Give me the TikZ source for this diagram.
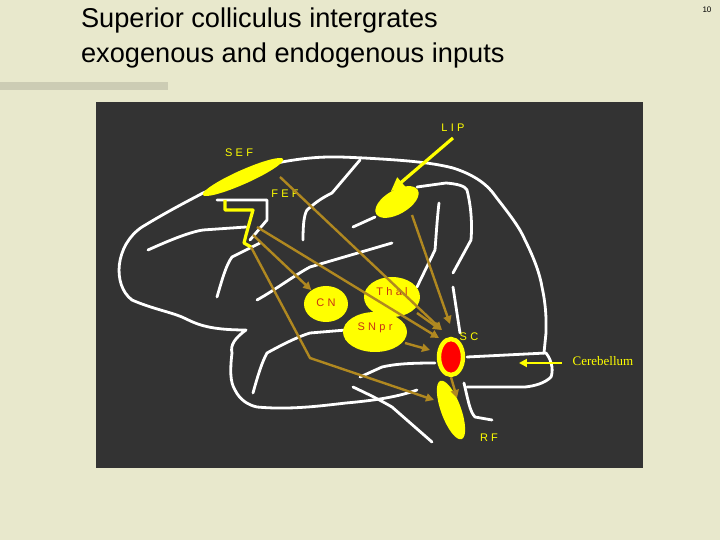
\documentclass[tikz,border=0pt]{standalone}
\usepackage{fontspec}
\setmainfont{Liberation Sans}
\newfontfamily\serifont{Liberation Serif}
\usetikzlibrary{arrows.meta, shapes.geometric}
\definecolor{slidebg}{RGB}{232, 232, 204}
\definecolor{panel}{RGB}{51, 51, 51}
\definecolor{area}{RGB}{255, 255, 0}
\definecolor{projcol}{RGB}{176, 136, 32}
\definecolor{lbl}{RGB}{200, 50, 20}

\begin{document}
\begin{tikzpicture}[
    x=0.5pt, y=-0.5pt,
    sulcus/.style={draw=white, line width=1.4pt, line cap=round, line join=round},
    region/.style={ellipse, fill=area, inner sep=0pt},
    proj/.style={draw=projcol, line width=1.2pt, -{Triangle[length=4pt, width=4pt]}},
    tag/.style={text=area, font=\fontsize{5.5}{6}\selectfont\addfontfeature{LetterSpace=30}},
    intag/.style={text=lbl, font=\fontsize{5.5}{6}\selectfont\addfontfeature{LetterSpace=30}}
]
\useasboundingbox[fill=slidebg] (0,0) rectangle (720,540);

% title and slide number
\node[anchor=north west, align=left, font=\fontsize{13.6}{17.5}\selectfont] (title) at (74,1)
    {Superior colliculus intergrates\\exogenous and endogenous inputs};
\node[font=\fontsize{4}{5}\selectfont] (pageno) at (707,10) {10};
\fill[black!12!slidebg] (0,82) rectangle (168,90);

% dark panel
\fill[panel] (96,102) rectangle (643,468);

% brain outline
\draw[sulcus] (132,300) .. controls (112,285) and (115,245) .. (142,227)
    .. controls (170,210) and (190,200) .. (203,193)
    .. controls (240,178) and (260,166) .. (282,162)
    .. controls (320,155) and (340,157) .. (364,158)
    .. controls (400,160) and (430,162) .. (453,168)
    .. controls (475,175) and (488,185) .. (496,197)
    .. controls (510,215) and (520,228) .. (525,240)
    .. controls (535,260) and (540,275) .. (542,287)
    .. controls (547,310) and (546,325) .. (546,333) -- (544,353);
\draw[sulcus] (132,300) .. controls (150,308) and (170,312) .. (182,317)
    .. controls (195,323) and (205,330) .. (246,330)
    .. controls (235,338) and (230,345) .. (232,353)
    .. controls (230,370) and (230,382) .. (235,390)
    .. controls (240,400) and (248,405) .. (257,407)
    .. controls (290,410) and (320,406) .. (346,403)
    .. controls (380,400) and (400,396) .. (417,390);
\draw[sulcus] (467,357) -- (546,353) .. controls (553,362) and (553,372) .. (551,377)
    .. controls (545,383) and (535,386) .. (525,387) -- (467,387);
\draw[sulcus] (464,383) .. controls (468,400) and (470,412) .. (475,417) -- (492,420);
\draw[sulcus] (353,387) .. controls (370,395) and (380,400) .. (392,407) -- (432,442);
\draw[sulcus] (148,250) .. controls (170,240) and (190,232) .. (203,230) -- (246,227);
\draw[sulcus] (217,200) -- (267,200) -- (267,220) -- (250,240);
\draw[sulcus] (217,297) .. controls (222,280) and (226,265) .. (232,257) -- (260,243);
\draw[sulcus] (303,240) .. controls (303,225) and (304,215) .. (307,210)
    .. controls (318,200) and (326,196) .. (332,193) -- (360,160);
\draw[sulcus] (353,227) -- (375,217);
\draw[sulcus] (417,187) -- (446,183) .. controls (458,184) and (465,186) .. (467,190)
    .. controls (472,210) and (472,228) .. (471,240) -- (453,273);
\draw[sulcus] (439,203) .. controls (437,220) and (436,238) .. (435,250) -- (417,287);
\draw[sulcus] (253,393) .. controls (258,375) and (262,362) .. (267,353)
    .. controls (285,343) and (300,336) .. (310,333) -- (346,330);
\draw[sulcus] (257,300) .. controls (275,290) and (295,275) .. (310,267) -- (392,243);
\draw[sulcus] (435,363) .. controls (410,363) and (395,364) .. (382,367) -- (360,377);
\draw[sulcus] (453,287) -- (460,333);

% cortical areas
\node[region, minimum width=44, minimum height=7, rotate=24] (sef) at (243,177) {};
\node[region, minimum width=24, minimum height=12, rotate=30] (lip) at (397,202) {};
\draw[area, line width=1.6pt, line join=round] (225,200) -- (225,210) -- (253,210)
    -- (246,235) -- (244,243) -- (251,247);
\coordinate (fef) at (251,240);

% subcortical nuclei
\node[region, minimum width=22, minimum height=18] (cn) at (326,304) {};
\node[region, minimum width=28, minimum height=20] (thal) at (392,297) {};
\node[region, minimum width=32, minimum height=20] (snpr) at (375,332) {};
\node[ellipse, fill=red, draw=area, line width=2.2pt, minimum width=12,
      minimum height=18, inner sep=0pt] (sc) at (451,357) {};
\node[region, minimum width=31, minimum height=10, rotate=-70] (rf) at (451,410) {};

% labels
\node[tag] (seflbl) at (239,153) {SEF};
\node[tag] (feflbl) at (285,194) {FEF};
\node[tag] (liplbl) at (453,128) {LIP};
\node[intag] (cnlbl) at (326,303) {CN};
\node[intag] (thallbl) at (392,292) {Thal};
\node[intag] (snprlbl) at (375,328) {SNpr};
\node[tag] (sclbl) at (469,337) {SC};
\node[tag] (rflbl) at (489,438) {RF};
\node[text=area, font=\serifont\fontsize{6.5}{7}\selectfont] (cereb) at (603,361) {Cerebellum};

% inputs to the colliculus
\coordinate (lipin) at (453,138);
\draw[draw=area, line width=1.6pt, -{Triangle[length=7pt, width=6pt]}] (lipin) -- (lip.north);
\coordinate (cerebin) at (562,363);
\draw[draw=area, line width=1pt, -{Triangle[length=4pt, width=4pt]}] (cerebin) -- (519,363);

\draw[proj] (280,177) -- (442,330);
\draw[proj] (257,227) -- (439,338);
\draw[proj] (253,235) -- (cn);
\draw[proj] (251,247) -- (310,358) -- (434,400);
\draw[proj] (412,215) -- (450,324);
\draw[proj] (417,313) -- (441,330);
\draw[proj] (405,343) -- (430,350);
\draw[proj] (sc.south) -- (457,398);
\end{tikzpicture}
\end{document}
